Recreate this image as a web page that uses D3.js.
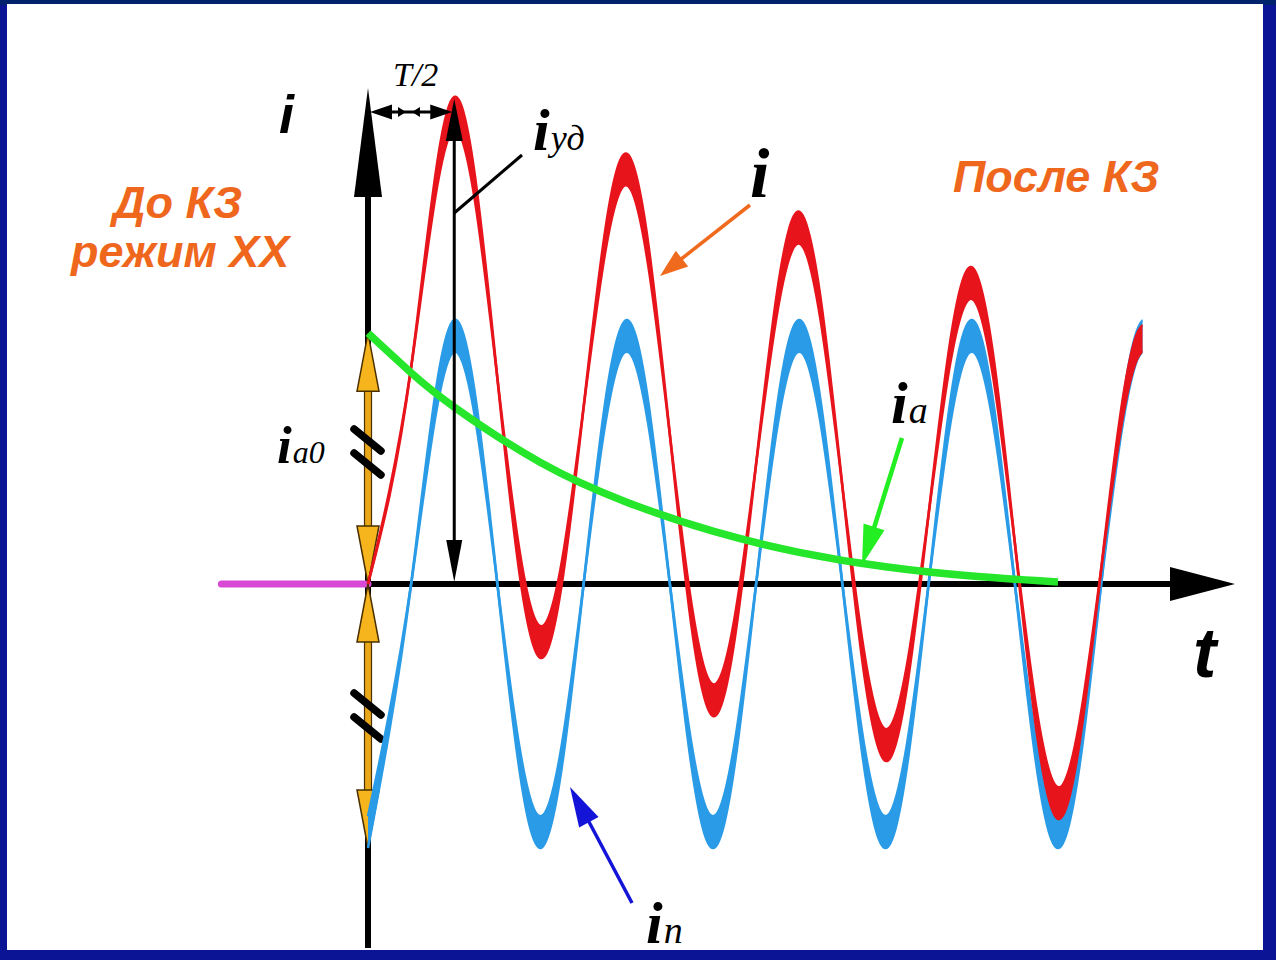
<!DOCTYPE html>
<html>
<head>
<meta charset="utf-8">
<script src="https://cdn.jsdelivr.net/npm/d3@7"></script>
<style>
  body { margin: 0; background: #0b1494; }
  svg { display: block; }
</style>
</head>
<body>
<svg width="1276" height="960"></svg>
<script>
// time in ms, current in units of the periodic amplitude
var tQuarter = [0, 5, 10, 15, 20, 25, 30, 35, 40, 45, 50, 55, 60, 65, 70, 75, 80, 85, 90, 95];

// periodic component i_n (inner line and the tips of the thick peaks)
var inInner = [-0.88, 0, 0.88, 0, -0.88, 0, 0.88, 0, -0.88, 0, 0.88, 0, -0.88, 0, 0.88, 0, -0.88, 0, 0.88, 0];
var inTip   = [-1.0, 0, 1.0, 0, -1.0, 0, 1.0, 0, -1.0, 0, 1.0, 0, -1.0, 0, 1.0, 0, -1.0, 0, 1.0, 0];

// total current i
var iInner = [0, 0.82, 1.72, 0.78, -0.16, 0.67, 1.51, 0.565, -0.38, 0.455, 1.29, 0.37, -0.55, 0.265, 1.08, 0.155, -0.77, 0.055, 0.88, 0];
var iTip   = [0, 0.82, 1.845, 0.78, -0.28, 0.67, 1.63, 0.565, -0.50, 0.455, 1.41, 0.37, -0.67, 0.265, 1.20, 0.155, -0.89, 0.055, 0.98, 0];

// aperiodic component i_a
var tA = [0, 5, 10, 20, 30, 40, 50, 60, 70, 80];
var iA = [0.95, 0.80, 0.67, 0.46, 0.31, 0.20, 0.12, 0.065, 0.03, 0.008];

// before the fault (no-load)
var tPre = [-17, 0];
var iPre = [0, 0];

var iShock = 1.845;   // i_уд at t = T/2
var halfT = 10;
var tEnd = 89.8;      // the drawn waves stop here

var svg = d3.select("svg");

// frame
svg.append("rect").attr("x", 0).attr("y", 0).attr("width", 1276).attr("height", 5).attr("fill", "#00216b");
svg.append("rect").attr("x", 7).attr("y", 4).attr("width", 1256).attr("height", 946).attr("fill", "#ffffff");

var x = d3.scaleLinear().domain([0, 100]).range([368, 1230.5]);
var y = d3.scaleLinear().domain([-1, 1]).range([848, 320]);

svg.append("clipPath").attr("id", "waves")
    .append("rect").attr("x", x(0) - 10).attr("y", 0)
    .attr("width", x(tEnd) - x(0) + 10).attr("height", 960);

function pts(ts, vs) {
    return ts.map(function(t, k) { return [t, vs[k]]; });
}

var line = d3.line()
    .x(function(d) { return x(d[0]); })
    .y(function(d) { return y(d[1]); })
    .curve(d3.curveNatural);

var band = d3.area()
    .x(function(d) { return x(d[0]); })
    .y0(function(d) { return y(d[1]); })
    .y1(function(d) { return y(d[2]); })
    .curve(d3.curveNatural);

function arrowHead(g, tx, ty, angle, len, wid, fill, stroke) {
    // angle: direction the arrow points to, in degrees
    var a = angle * Math.PI / 180,
        ux = Math.cos(a), uy = Math.sin(a),
        bx = tx - ux * len, by = ty - uy * len;
    var p = [[tx, ty], [bx - uy * wid / 2, by + ux * wid / 2], [bx + uy * wid / 2, by - ux * wid / 2]];
    g.append("path")
        .attr("d", "M" + p.join("L") + "Z")
        .attr("fill", fill)
        .attr("stroke", stroke || "none")
        .attr("stroke-width", stroke ? 1.5 : 0)
        .attr("stroke-linejoin", "miter");
}

var axes = svg.append("g");

// vertical axis
axes.append("line")
    .attr("x1", x(0)).attr("x2", x(0))
    .attr("y1", 948).attr("y2", 190)
    .attr("stroke", "#000").attr("stroke-width", 6);
arrowHead(axes, x(0), 88, -90, 109, 28, "#000");

// horizontal axis
axes.append("line")
    .attr("x1", x(0)).attr("x2", 1175)
    .attr("y1", y(0)).attr("y2", y(0))
    .attr("stroke", "#000").attr("stroke-width", 6);
arrowHead(axes, 1235, y(0), 0, 65, 34, "#000");

// before-fault line
svg.append("path")
    .attr("d", d3.line().x(function(d) { return x(d[0]); }).y(function(d) { return y(d[1]); })(pts(tPre, iPre)))
    .attr("stroke", "#d84ad6").attr("stroke-width", 7)
    .attr("stroke-linecap", "round").attr("fill", "none");

// initial aperiodic current arrows (gold)
var gold = svg.append("g");
function goldArrow(v0, v1) {
    var y0 = y(v0), y1 = y(v1), dir = y1 < y0 ? -1 : 1;
    gold.append("rect")
        .attr("x", x(0) - 3.5).attr("width", 7)
        .attr("y", Math.min(y0, y1) + 50).attr("height", Math.abs(y1 - y0) - 100)
        .attr("fill", "#e9a81a").attr("stroke", "#4a3000").attr("stroke-width", 1.2);
    arrowHead(gold, x(0), y1, dir * 90, 58, 22, "#f6b51c", "#4a3000");
    arrowHead(gold, x(0), y0, -dir * 90, 58, 22, "#f6b51c", "#4a3000");
}
goldArrow(0, iA[0]);
goldArrow(0, inTip[0]);

// break marks
[[429, 453], [693, 717]].forEach(function(pair) {
    pair.forEach(function(yy) {
        gold.append("line")
            .attr("x1", 354).attr("y1", yy)
            .attr("x2", 381).attr("y2", yy + 22)
            .attr("stroke", "#000").attr("stroke-width", 7.5)
            .attr("stroke-linecap", "round");
    });
});

var waves = svg.append("g").attr("clip-path", "url(#waves)");

// periodic component
var blue = "#2a9be6";
waves.append("path")
    .attr("d", band(tQuarter.map(function(t, k) { return [t, inInner[k], inTip[k]]; })))
    .attr("fill", blue);
waves.append("path").attr("d", line(pts(tQuarter, inInner)))
    .attr("fill", "none").attr("stroke", blue).attr("stroke-width", 2.6);
waves.append("path").attr("d", line(pts(tQuarter, inTip)))
    .attr("fill", "none").attr("stroke", blue).attr("stroke-width", 2.6);

// total current
var red = "#e8141c";
waves.append("path")
    .attr("d", band(tQuarter.map(function(t, k) { return [t, iInner[k], iTip[k]]; })))
    .attr("fill", red);
waves.append("path").attr("d", line(pts(tQuarter, iInner)))
    .attr("fill", "none").attr("stroke", red).attr("stroke-width", 2.6);
waves.append("path").attr("d", line(pts(tQuarter, iTip)))
    .attr("fill", "none").attr("stroke", red).attr("stroke-width", 2.6);

// aperiodic component
svg.append("path").attr("d", line(pts(tA, iA)))
    .attr("fill", "none").attr("stroke", "#25e62a").attr("stroke-width", 7.5)
    .attr("stroke-linecap", "butt");

// i_уд double arrow
var ann = svg.append("g");
ann.append("line")
    .attr("x1", x(halfT)).attr("x2", x(halfT))
    .attr("y1", y(iShock) + 30).attr("y2", y(0) - 30)
    .attr("stroke", "#000").attr("stroke-width", 3);
arrowHead(ann, x(halfT), y(iShock) + 2, -90, 42, 17, "#000");
arrowHead(ann, x(halfT), y(0) - 2, 90, 42, 16, "#000");

// T/2 arrows
var yT = 112;
ann.append("line").attr("x1", x(0) + 10).attr("x2", x(halfT) - 10)
    .attr("y1", yT).attr("y2", yT).attr("stroke", "#000").attr("stroke-width", 3);
arrowHead(ann, x(0) + 2, yT, 180, 22, 15, "#000");
arrowHead(ann, x(halfT) - 2, yT, 0, 22, 15, "#000");
arrowHead(ann, 406, yT, 0, 8, 10, "#000");
arrowHead(ann, 412, yT, 180, 8, 10, "#000");

// leaders
ann.append("line").attr("x1", x(halfT)).attr("y1", 213).attr("x2", 522).attr("y2", 155)
    .attr("stroke", "#000").attr("stroke-width", 3);

ann.append("line").attr("x1", 750).attr("y1", 205).attr("x2", 680).attr("y2", 260)
    .attr("stroke", "#f06a1e").attr("stroke-width", 3.5);
arrowHead(ann, 660, 276, Math.atan2(276 - 205, 660 - 750) * 180 / Math.PI, 28, 20, "#f06a1e");

ann.append("line").attr("x1", 902).attr("y1", 438).attr("x2", 874).attr("y2", 528)
    .attr("stroke", "#22ee22").attr("stroke-width", 4.5);
arrowHead(ann, 862, 565, Math.atan2(565 - 438, 862 - 902) * 180 / Math.PI, 40, 22, "#22ee22");

ann.append("line").attr("x1", 632).attr("y1", 903).attr("x2", 588).attr("y2", 820)
    .attr("stroke", "#1414d8").attr("stroke-width", 3.5);
arrowHead(ann, 570, 787, Math.atan2(787 - 903, 570 - 632) * 180 / Math.PI, 40, 22, "#1414d8");

// labels
var serif = "'Liberation Serif', 'DejaVu Serif', serif",
    sans = "'Liberation Sans', Arial, sans-serif";

function label(px, py, main, sub, mainSize, subSize) {
    var t = svg.append("text").attr("x", px).attr("y", py)
        .attr("font-family", serif).attr("font-style", "italic");
    t.append("tspan").attr("font-size", mainSize).attr("font-weight", "bold").text(main);
    if (sub) t.append("tspan").attr("font-size", subSize).attr("dx", 1).text(sub);
}

svg.append("text").attr("x", 279).attr("y", 133)
    .attr("font-family", sans).attr("font-weight", "bold").attr("font-style", "italic")
    .attr("font-size", 54).text("i");
svg.append("text").attr("x", 1193).attr("y", 677)
    .attr("font-family", sans).attr("font-weight", "bold").attr("font-style", "italic")
    .attr("font-size", 70).text("t");

svg.append("text").attr("x", 393).attr("y", 86)
    .attr("font-family", serif).attr("font-style", "italic")
    .attr("font-size", 34).text("T/2");

label(533, 150, "i", "уд", 60, 36);
label(750, 197, "i", null, 70);
label(891, 423, "i", "a", 60, 38);
label(646, 943, "i", "n", 60, 38);
label(277, 463, "i", "a0", 53, 32);

var orange = "#ef671d";
function oText(px, py, s) {
    svg.append("text").attr("x", px).attr("y", py)
        .attr("font-family", sans).attr("font-weight", "bold").attr("font-style", "italic")
        .attr("font-size", 45).attr("fill", orange).text(s);
}
oText(113, 218, "До КЗ");
oText(71, 267, "режим ХХ");
oText(953, 192, "После КЗ");
</script>
</body>
</html>
